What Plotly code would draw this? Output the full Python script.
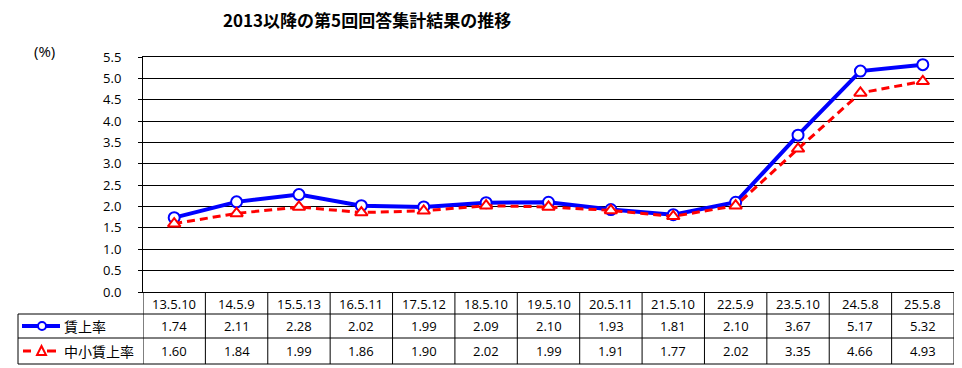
import plotly.graph_objects as go

categories = ["13.5.10", "14.5.9", "15.5.13", "16.5.11", "17.5.12", "18.5.10", "19.5.10",
              "20.5.11", "21.5.10", "22.5.9", "23.5.10", "24.5.8", "25.5.8"]
wage_rate = [1.74, 2.11, 2.28, 2.02, 1.99, 2.09, 2.10, 1.93, 1.81, 2.10, 3.67, 5.17, 5.32]
sme_wage_rate = [1.60, 1.84, 1.99, 1.86, 1.90, 2.02, 1.99, 1.91, 1.77, 2.02, 3.35, 4.66, 4.93]
series_names = ["賃上率", "中小賃上率"]
title_text = "2013以降の第5回回答集計結果の推移"

# page body has an 8px margin, so the figure starts at screen (8, 8)
OFF = 8
W, H = 962 - OFF, 368 - OFF
def px(x):
    return (x - OFF) / W
def py(y):
    return 1 - (y - OFF) / H

PL, PR, PT, PB = 143, 954, 57, 292
ROW1, ROW2, ROW3 = 314, 338, 364
TLEFT = 18

BLUE = "#0000FF"
RED = "#FF0000"
FONT = "Open Sans, Noto Sans CJK JP, sans-serif"
JFONT = "Noto Sans CJK JP, sans-serif"

idx = list(range(len(categories)))
fig = go.Figure()
fig.add_trace(go.Scatter(x=idx, y=wage_rate, mode="lines+markers", name=series_names[0],
                         line=dict(color=BLUE, width=4),
                         marker=dict(symbol="circle", size=11, color="white",
                                     line=dict(color=BLUE, width=2))))
fig.add_trace(go.Scatter(x=idx, y=sme_wage_rate, mode="lines+markers", name=series_names[1],
                         line=dict(color=RED, width=3, dash="8px,5px"),
                         marker=dict(symbol="triangle-up", size=11, color="white",
                                     line=dict(color=RED, width=2))))

shapes = []
ann = []
line_k = dict(color="black", width=1)
for yy in (ROW1, ROW2, ROW3):
    shapes.append(dict(type="line", xref="paper", yref="paper", x0=px(TLEFT), x1=px(PR),
                       y0=py(yy), y1=py(yy), line=line_k))
shapes.append(dict(type="line", xref="paper", yref="paper", x0=px(TLEFT), x1=px(TLEFT),
                   y0=py(ROW1), y1=py(ROW3), line=line_k))
for i in range(len(categories) + 1):
    shapes.append(dict(type="line", xref="x", yref="paper", x0=i - 0.5, x1=i - 0.5,
                       y0=py(PB), y1=py(ROW3), line=line_k))

def txt(x, y, text, xref="paper", xanchor="center", size=13, family=FONT):
    ann.append(dict(x=x, y=y, xref=xref, yref="paper", text=text, showarrow=False,
                    xanchor=xanchor, yanchor="middle", borderpad=0,
                    font=dict(family=family, size=size, color="black")))

r0 = (PB + ROW1) / 2 + 0.5
r1 = (ROW1 + ROW2) / 2
r2 = (ROW2 + ROW3) / 2
for i, c in enumerate(categories):
    txt(i, py(r0), c, xref="x")
    txt(i, py(r1), f"{wage_rate[i]:.2f}", xref="x")
    txt(i, py(r2), f"{sme_wage_rate[i]:.2f}", xref="x")

# legend keys in table
shapes.append(dict(type="line", xref="paper", yref="paper", x0=px(22), x1=px(60), y0=py(r1), y1=py(r1),
                   line=dict(color=BLUE, width=4)))
shapes.append(dict(type="circle", xref="paper", yref="paper", x0=px(38), x1=px(46),
                   y0=py(r1 + 4), y1=py(r1 - 4), fillcolor="white", line=dict(color=BLUE, width=2)))
for a, b in ((23, 31), (47, 56)):
    shapes.append(dict(type="line", xref="paper", yref="paper", x0=px(a), x1=px(b), y0=py(r2), y1=py(r2),
                       line=dict(color=RED, width=3)))
shapes.append(dict(type="path", xref="paper", yref="paper",
                   path=f"M {px(37)},{py(r2 + 4)} L {px(46)},{py(r2 + 4)} L {px(41.5)},{py(r2 - 5)} Z",
                   fillcolor="white", line=dict(color=RED, width=2)))
txt(px(63), py(r1), series_names[0], xanchor="left", size=14, family=JFONT)
txt(px(63), py(r2), series_names[1], xanchor="left", size=14, family=JFONT)

txt(px(367), py(20), f"<b>{title_text}</b>", size=17, family=JFONT)
txt(px(44.5), py(51), "(%)", size=15)

fig.update_layout(
    width=W, height=H, margin=dict(l=0, r=0, t=0, b=0, pad=0, autoexpand=False),
    paper_bgcolor="white", plot_bgcolor="white", showlegend=False,
    shapes=shapes, annotations=ann,
    xaxis=dict(domain=[px(PL), px(PR)], range=[-0.5, len(categories) - 0.5], showgrid=False,
               zeroline=False, showticklabels=False, ticks="", showline=True, mirror=True,
               linecolor="black", linewidth=1, fixedrange=True),
    yaxis=dict(domain=[py(PB), py(PT)], range=[0, 5.5], dtick=0.5, tick0=0, tickformat=".1f",
               showgrid=True, gridcolor="black", gridwidth=1, zeroline=False,
               showline=True, mirror=True, linecolor="black", linewidth=1,
               ticks="outside", ticklen=4, tickcolor="black", ticklabelstandoff=14,
               tickfont=dict(family=FONT, size=13, color="black"), fixedrange=True),
)

fig.write_html("out.html")
